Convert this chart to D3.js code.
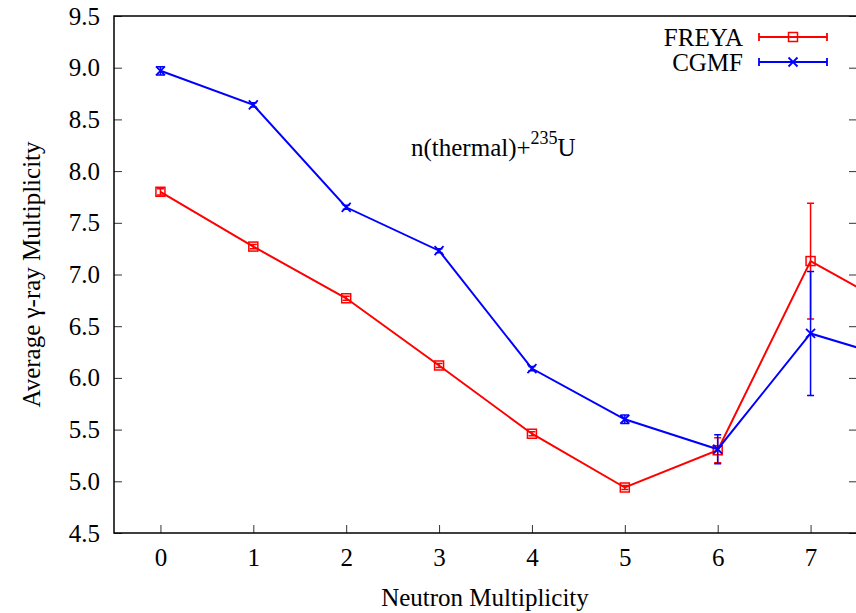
<!DOCTYPE html>
<html>
<head>
<meta charset="utf-8">
<script src="https://cdn.jsdelivr.net/npm/d3@7"></script>
<style>
  body { margin: 0; background: #fff; }
  svg { display: block; overflow: hidden; }
  text { font-family: "Liberation Serif", "DejaVu Serif", serif; fill: #000; }
</style>
</head>
<body>
<svg width="856" height="613"></svg>
<script>
// neutron multiplicity and average gamma multiplicity per model
const nMult = [0, 1, 2, 3, 4, 5, 6, 7, 8];
const freya = [7.80, 7.27, 6.77, 6.12, 5.46, 4.94, 5.30, 7.13, 6.63];
const freyaErr = [0.03, 0.02, 0.02, 0.02, 0.02, 0.02, 0.12, 0.56, 1.0];
const cgmf = [8.97, 8.64, 7.65, 7.23, 6.09, 5.60, 5.31, 6.43, 6.16];
const cgmfErr = [0.04, 0.02, 0.02, 0.02, 0.02, 0.04, 0.14, 0.60, 1.0];
const xTicks = [0, 1, 2, 3, 4, 5, 6, 7];
const yTicks = [4.5, 5.0, 5.5, 6.0, 6.5, 7.0, 7.5, 8.0, 8.5, 9.0, 9.5];

const svg = d3.select('svg');
const margin = { left: 114, top: 16, right: 857, bottom: 533 };
const fs = '25px';

const x = d3.scaleLinear().domain([-0.5, 7.5]).range([margin.left, margin.right]);
const y = d3.scaleLinear().domain([4.5, 9.5]).range([margin.bottom, margin.top]);

svg.append('defs').append('clipPath').attr('id', 'plot')
  .append('rect')
  .attr('x', margin.left).attr('y', margin.top)
  .attr('width', margin.right - margin.left)
  .attr('height', margin.bottom - margin.top);

// axes (inward ticks, like gnuplot)
const tickLen = 8;
svg.append('g')
  .attr('transform', `translate(0,${margin.bottom})`)
  .call(d3.axisBottom(x).tickValues(xTicks).tickSizeInner(-tickLen).tickSizeOuter(0).tickPadding(15))
  .call(g => g.select('.domain').remove())
  .call(g => g.selectAll('line').attr('stroke', '#333'))
  .call(g => g.selectAll('text').style('font-size', fs));

svg.append('g')
  .attr('transform', `translate(${margin.left},0)`)
  .call(d3.axisLeft(y).tickValues(yTicks).tickFormat(d3.format('.1f')).tickSizeInner(-tickLen).tickSizeOuter(0).tickPadding(14))
  .call(g => g.select('.domain').remove())
  .call(g => g.selectAll('line').attr('stroke', '#333'))
  .call(g => g.selectAll('text').style('font-size', fs));

svg.append('g')
  .attr('transform', `translate(${margin.right},0)`)
  .call(d3.axisRight(y).tickValues(yTicks).tickFormat('').tickSizeInner(-tickLen).tickSizeOuter(0))
  .call(g => g.select('.domain').remove())
  .call(g => g.selectAll('line').attr('stroke', '#333'));

svg.append('rect')
  .attr('x', margin.left).attr('y', margin.top)
  .attr('width', margin.right - margin.left)
  .attr('height', margin.bottom - margin.top)
  .attr('fill', 'none').attr('stroke', '#000').attr('stroke-width', 1.5);

// axis titles
svg.append('text')
  .attr('x', 485).attr('y', 606)
  .attr('text-anchor', 'middle').style('font-size', fs)
  .text('Neutron Multiplicity');

svg.append('text')
  .attr('transform', `translate(40,${y(7)}) rotate(-90)`)
  .attr('text-anchor', 'middle').style('font-size', fs)
  .text('Average γ-ray Multiplicity');

// annotation
const ann = svg.append('text')
  .attr('x', 411).attr('y', 156).style('font-size', fs);
ann.append('tspan').text('n(thermal)+');
ann.append('tspan').attr('dy', -12).style('font-size', '18px').text('235');
ann.append('tspan').attr('dy', 12).text('U');

const series = [
  { name: 'FREYA', vals: freya, errs: freyaErr, color: '#ff0000', marker: 'square' },
  { name: 'CGMF', vals: cgmf, errs: cgmfErr, color: '#0000ff', marker: 'cross' }
];

function drawMarker(g, type, cx, cy, color) {
  if (type === 'square') {
    g.append('rect')
      .attr('x', cx - 4.5).attr('y', cy - 4.5)
      .attr('width', 9).attr('height', 9)
      .attr('fill', 'none').attr('stroke', color).attr('stroke-width', 1.5);
  } else {
    g.append('path')
      .attr('d', `M${cx - 4.5},${cy - 4.5}L${cx + 4.5},${cy + 4.5}M${cx - 4.5},${cy + 4.5}L${cx + 4.5},${cy - 4.5}`)
      .attr('stroke', color).attr('stroke-width', 1.8);
  }
}

const plot = svg.append('g').attr('clip-path', 'url(#plot)');
const line = d3.line().x((d, i) => x(nMult[i])).y(d => y(d));

series.forEach(s => {
  const g = plot.append('g');
  g.append('path')
    .datum(s.vals)
    .attr('d', line)
    .attr('fill', 'none').attr('stroke', s.color).attr('stroke-width', 2);

  s.vals.forEach((v, i) => {
    const cx = x(nMult[i]);
    const y0 = y(v - s.errs[i]), y1 = y(v + s.errs[i]);
    g.append('path')
      .attr('d', `M${cx},${y0}L${cx},${y1}M${cx - 3.5},${y0}L${cx + 3.5},${y0}M${cx - 3.5},${y1}L${cx + 3.5},${y1}`)
      .attr('stroke', s.color).attr('stroke-width', 1.5).attr('fill', 'none');
    drawMarker(g, s.marker, cx, y(v), s.color);
  });
});

// legend
series.forEach((s, i) => {
  const ly = 37 + i * 25;
  const g = svg.append('g');
  g.append('text')
    .attr('x', 743).attr('y', ly + 9)
    .attr('text-anchor', 'end').style('font-size', fs)
    .text(s.name);
  g.append('path')
    .attr('d', `M759,${ly}L827,${ly}M759,${ly - 4}L759,${ly + 4}M827,${ly - 4}L827,${ly + 4}`)
    .attr('stroke', s.color).attr('stroke-width', 1.8).attr('fill', 'none');
  drawMarker(g, s.marker, 793, ly, s.color);
});
</script>
</body>
</html>
